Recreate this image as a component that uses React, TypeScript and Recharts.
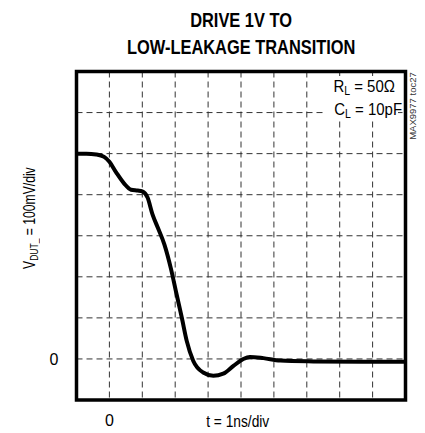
import { CartesianGrid, Line, LineChart, ReferenceArea, XAxis, YAxis } from "recharts";
import type { ReactNode } from "react";

// time in ns (1ns/div), voltage in mV (100mV/div)
const timeNs = [
  -1, -0.7, -0.4, -0.16, 0, 0.2, 0.45, 0.66, 0.86, 1.0, 1.16, 1.31, 1.47, 1.67,
  1.87, 2.04, 2.2, 2.35, 2.55, 2.85, 3.16, 3.46, 3.77, 4.07, 4.27, 4.68, 5.19,
  6.2, 7.7, 9,
];
const vdutMv = [
  500, 500, 498, 492, 480, 455, 427, 412, 410, 408, 393, 352, 320, 279, 220,
  158, 101, 44, -5, -33, -41, -36, -17, 0, 5, 2, -4, -6, -7, -7,
];

const gridTime = [-1, 0, 1, 2, 3, 4, 5, 6, 7, 8, 9];
const gridVolt = [-100, 0, 100, 200, 300, 400, 500, 600, 700];
const xTicks = [0];
const yTicks = [0];

const data = timeNs.map((t, i) => ({ t, v: vdutMv[i] }));

const font = "'Liberation Sans', Arial, sans-serif";

const sub = { fontSize: "0.7em", position: "relative" as const, top: "0.3em" };

// fake a condensed face by squeezing the glyphs
function Narrow({
  k,
  origin = "center",
  children,
}: {
  k: number;
  origin?: string;
  children: ReactNode;
}) {
  return (
    <span
      style={{
        display: "inline-block",
        whiteSpace: "nowrap",
        transform: `scaleX(${k})`,
        transformOrigin: origin,
      }}
    >
      {children}
    </span>
  );
}

export default function App() {
  return (
    <div
      style={{
        position: "absolute",
        left: 0,
        top: 0,
        width: 425,
        height: 433,
        background: "#fff",
        fontFamily: font,
        color: "#000",
      }}
    >
      <LineChart
        width={425}
        height={433}
        data={data}
        margin={{ top: 71.5, right: 19.5, bottom: 0, left: 0 }}
      >
        <CartesianGrid
          stroke="#333"
          strokeDasharray="6 4"
          horizontalValues={gridVolt}
          verticalValues={gridTime}
        />
        <XAxis
          dataKey="t"
          type="number"
          domain={[-1, 9]}
          ticks={xTicks}
          axisLine={false}
          tickLine={false}
          tickSize={0}
          tickMargin={15}
          height={33}
          tick={{ fontSize: 16, fill: "#000", fontFamily: font }}
        />
        <YAxis
          type="number"
          domain={[-100, 700]}
          ticks={yTicks}
          axisLine={false}
          tickLine={false}
          tickSize={0}
          tickMargin={18}
          width={76.5}
          tick={{ fontSize: 16, fill: "#000", fontFamily: font }}
        />
        <ReferenceArea
          x1={-1}
          x2={9}
          y1={-100}
          y2={700}
          fill="none"
          stroke="#000"
          strokeWidth={3.5}
        />
        <Line
          dataKey="v"
          type="monotone"
          stroke="#000"
          strokeWidth={4}
          dot={false}
          isAnimationActive={false}
        />
      </LineChart>

      {/* title */}
      <div
        style={{
          position: "absolute",
          left: 76.5,
          top: 6.5,
          width: 329,
          textAlign: "center",
          fontSize: 20,
          lineHeight: "27px",
          fontWeight: 900,
        }}
      >
        <Narrow k={0.82}>DRIVE 1V TO</Narrow>
        <br />
        <Narrow k={0.82}>LOW-LEAKAGE TRANSITION</Narrow>
      </div>

      {/* conditions box */}
      <div
        style={{
          position: "absolute",
          left: 325,
          top: 75.5,
          width: 66,
          paddingRight: 7,
          height: 44,
          background: "#fff",
          textAlign: "right",
          fontSize: 17,
          lineHeight: "22px",
        }}
      >
        <div>
          <Narrow k={0.88} origin="right">
            R<span style={sub}>L</span> = 50Ω
          </Narrow>
        </div>
        <div>
          <Narrow k={0.88} origin="right">
            C<span style={sub}>L</span> = 10pF
          </Narrow>
        </div>
      </div>

      {/* figure id */}
      <div
        style={{
          position: "absolute",
          left: 413 - 40,
          top: 106 - 6,
          width: 80,
          height: 12,
          lineHeight: "12px",
          fontSize: 9.5,
          textAlign: "center",
          color: "#333",
          transform: "rotate(-90deg)",
        }}
      >
        <Narrow k={1}>MAX9977 toc27</Narrow>
      </div>

      {/* y title */}
      <div
        style={{
          position: "absolute",
          left: 30 - 80,
          top: 218 - 10,
          width: 160,
          height: 20,
          lineHeight: "20px",
          fontSize: 16,
          textAlign: "center",
          transform: "rotate(-90deg)",
        }}
      >
        <Narrow k={0.76}>
          V<span style={sub}>DUT_</span> = 100mV/div
        </Narrow>
      </div>

      {/* x title */}
      <div
        style={{
          position: "absolute",
          left: 188,
          top: 412,
          width: 100,
          textAlign: "center",
          fontSize: 16,
          lineHeight: "20px",
        }}
      >
        <Narrow k={0.86}>t = 1ns/div</Narrow>
      </div>
    </div>
  );
}
